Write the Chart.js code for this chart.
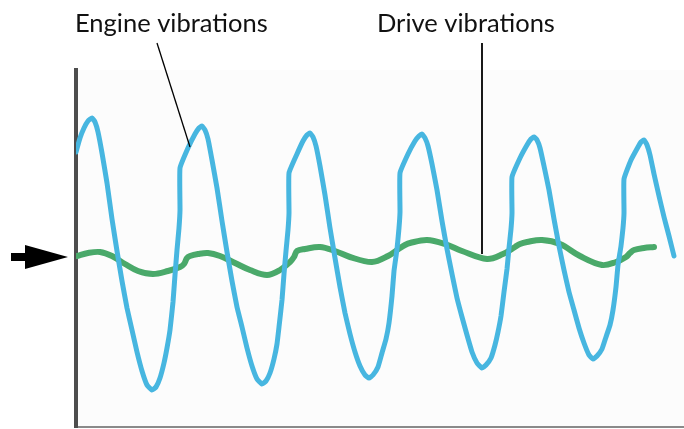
<!DOCTYPE html>
<html>
<head>
<meta charset="utf-8">
<script src="https://cdn.jsdelivr.net/npm/chart.js@4/dist/chart.umd.min.js"></script>
<style>
  html, body { margin: 0; padding: 0; background: #fff; }
  #wrap { width: 684px; height: 429px; position: relative; }
</style>
</head>
<body>
<div id="wrap"><canvas id="chart"></canvas></div>
<script>
// --- data (time units, amplitude relative to the arrow level) ---
const seriesNames = ['Engine vibrations', 'Drive vibrations'];

const engineTime = [
  0, 4, 8, 12, 16,
  19, 22, 26, 31, 36, 41, 46, 51, 56, 61, 66, 71, 76,
  80, 84, 88, 91, 94, 97, 99, 101, 103, 104, 104,
  112, 119, 123, 126,
  129, 132, 136, 141, 146, 151, 156, 161, 166, 171, 176, 181, 186,
  190, 194, 198, 201, 203, 206, 208, 210, 212, 213, 213,
  221, 227, 231, 234,
  237, 240, 244, 249, 254, 259, 264, 269, 274, 279, 284, 289, 293,
  297, 302, 306, 310, 313, 316, 318, 321, 323, 324, 324,
  332, 339, 343, 346,
  349, 352, 356, 361, 366, 371, 376, 381, 386, 391, 396, 401, 406,
  410, 415, 419, 422, 425, 428, 431, 433, 435, 436, 436,
  444, 451, 455, 458,
  461, 464, 468, 473, 478, 483, 488, 493, 498, 503, 508, 513, 517,
  521, 526, 530, 534, 537, 540, 542, 545, 547, 548, 548,
  555, 562, 565, 568,
  571, 574, 578, 583, 588, 593, 598
];
const engineAmp = [
  105, 119, 129, 136, 139,
  135, 125, 104, 74, 38, 6, -24, -51, -73, -95, -114, -128, -133,
  -130, -121, -106, -91, -73, -45, -18, 7, 29, 47, 89,
  109, 123, 129, 131,
  127, 118, 97, 69, 36, 5, -24, -50, -70, -91, -109, -122, -127,
  -124, -116, -102, -87, -70, -43, -17, 6, 27, 44, 84,
  103, 116, 122, 124,
  120, 111, 91, 62, 29, -1, -30, -56, -77, -95, -109, -118, -121,
  -118, -110, -96, -82, -66, -39, -14, 8, 29, 45, 84,
  103, 116, 121, 123,
  119, 111, 93, 67, 36, 8, -17, -41, -60, -78, -95, -106, -111,
  -108, -101, -88, -75, -59, -35, -12, 9, 28, 44, 80,
  99, 112, 118, 120,
  117, 109, 91, 67, 38, 11, -13, -35, -53, -71, -86, -98, -102,
  -99, -92, -80, -68, -53, -30, -8, 11, 29, 44, 78,
  97, 110, 115, 117,
  112, 102, 83, 61, 40, 21, 1
];

const driveTime = [
  1, 12, 24, 36, 49, 62, 77, 92, 104, 108, 111, 114, 122, 132,
  144, 159, 174, 191, 204, 214, 218, 221, 229, 244,
  259, 274, 296, 312, 324, 329, 334, 351,
  369, 386, 411, 427, 439, 444, 451, 466,
  484, 504, 526, 540, 550, 554, 558, 568, 578
];
const driveAmp = [
  1, 4, 5, 1, -7, -14, -17, -14, -10, -7, -1, 1, 3, 4,
  1, -6, -13, -18, -13, -5, 0, 6, 8, 10,
  6, 0, -5, 1, 9, 12, 14, 17,
  13, 6, -2, 3, 10, 13, 15, 17,
  13, 1, -8, -5, 0, 4, 7, 9, 10
];

const timeRange = [0, 608];
const ampRange = [-170, 187];

// annotation anchors (data space) for the leader lines
const engineLabelAt = { x: 114, y: 110 };
const driveLabelAt = { x: 406, y: 3 };

const toPoints = (xs, ys) => xs.map((x, i) => ({ x: x, y: ys[i] }));

// --- plot background, arrow, labels ---
const decorPlugin = {
  id: 'decor',
  beforeDraw(chart) {
    const { ctx, chartArea: a } = chart;
    ctx.save();
    ctx.fillStyle = '#fcfcfc';
    ctx.fillRect(a.left, a.top, a.right - a.left, a.bottom - a.top);
    ctx.restore();
  },
  afterDraw(chart) {
    const { ctx, scales } = chart;
    const xs = scales.x, ys = scales.y;
    ctx.save();

    // arrow pointing at the zero level
    const y0 = ys.getPixelForValue(0);
    ctx.fillStyle = '#000';
    ctx.fillRect(11, y0 - 4, 16, 8);
    ctx.beginPath();
    ctx.moveTo(25, y0 - 12);
    ctx.lineTo(68, y0);
    ctx.lineTo(25, y0 + 12);
    ctx.closePath();
    ctx.fill();

    // labels
    ctx.font = '25.5px Lato';
    ctx.textBaseline = 'alphabetic';
    ctx.fillStyle = '#111';
    ctx.fillText(seriesNames[0], 75, 32);
    ctx.fillText(seriesNames[1], 377, 32);

    // leader lines
    ctx.strokeStyle = '#000';
    ctx.lineWidth = 1.3;
    ctx.beginPath();
    ctx.moveTo(157, 43);
    ctx.lineTo(xs.getPixelForValue(engineLabelAt.x), ys.getPixelForValue(engineLabelAt.y));
    ctx.stroke();
    ctx.lineWidth = 1.8;
    ctx.beginPath();
    const dx = xs.getPixelForValue(driveLabelAt.x);
    ctx.moveTo(dx, 43);
    ctx.lineTo(dx, ys.getPixelForValue(driveLabelAt.y));
    ctx.stroke();
    ctx.restore();
  }
};

new Chart(document.getElementById('chart'), {
  type: 'line',
  data: {
    datasets: [
      {
        label: seriesNames[0],
        data: toPoints(engineTime, engineAmp),
        borderColor: '#47b6e0',
        borderWidth: 5,
        tension: 0.12,
        borderJoinStyle: 'round',
        borderCapStyle: 'round',
        pointRadius: 0,
        fill: false
      },
      {
        label: seriesNames[1],
        data: toPoints(driveTime, driveAmp),
        borderColor: '#4aa96a',
        borderWidth: 6,
        tension: 0.35,
        borderJoinStyle: 'round',
        borderCapStyle: 'round',
        pointRadius: 0,
        fill: false
      }
    ]
  },
  options: {
    responsive: true,
    maintainAspectRatio: false,
    animation: false,
    events: [],
    layout: { padding: { left: 76, top: 70, right: 0, bottom: 2 } },
    plugins: { legend: { display: false }, tooltip: { enabled: false } },
    scales: {
      x: {
        type: 'linear',
        min: timeRange[0],
        max: timeRange[1],
        ticks: { display: false },
        grid: { display: false, drawTicks: false },
        border: { display: true, color: '#8a8a8a', width: 2 }
      },
      y: {
        min: ampRange[0],
        max: ampRange[1],
        z: 1,
        ticks: { display: false },
        grid: { display: false, drawTicks: false },
        border: { display: true, color: '#4d4d4d', width: 4 }
      }
    }
  },
  plugins: [decorPlugin]
});
</script>
</body>
</html>
